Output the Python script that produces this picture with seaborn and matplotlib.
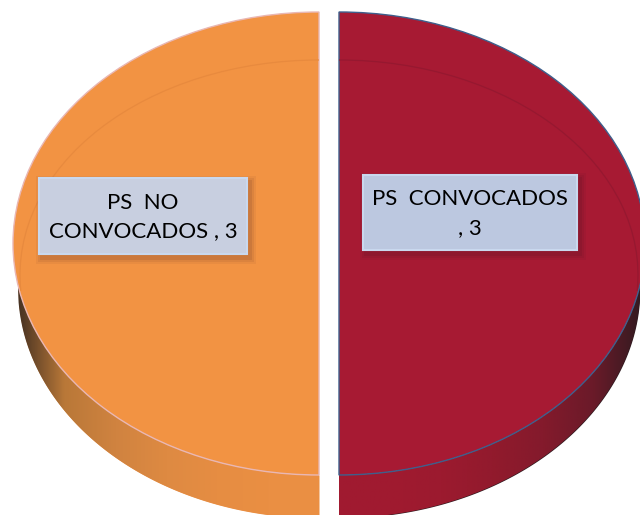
import numpy as np
import matplotlib
matplotlib.use("Agg")
import matplotlib.pyplot as plt
import seaborn as sns
from matplotlib.patches import Arc, Rectangle

categories = ["PS  NO\nCONVOCADOS ", "PS  CONVOCADOS\n"]
values = [3, 3]
slice_colors = ["#F29343", "#A71A33"]
edge_colors = ["#E9B7B4", "#3E5F8C"]
box_colors = ["#C8CFE0", "#BCC8E0"]
side_orange = ["#3A2A20", "#B97838", "#D08340", "#DE8A42", "#E68D42", "#EA8F43", "#EB9044"]
side_red = ["#A11A30", "#A01A30", "#9C1A2F", "#921A2D", "#841A2C", "#6A1A29", "#2F1B20"]

sns.set_theme(style="white")
plt.rcParams['font.family'] = ['Lato', 'DejaVu Sans']

# tamaños en pixeles de la imagen original
W, H = 640, 515
CX, CY = 329, 243.5
RX, RY = 306, 231.5
GAP = 10
# elipse inferior del canto
LOW_A, LOW_B, LOW_Y = 301, 230, 288


def px_x(x):
    return (x - CX) / RX


def px_y(y):
    return (CY - y) / RY


fig = plt.figure(figsize=(W / 100, H / 100), dpi=100)
ax = fig.add_axes([0, 0, 1, 1])

explode = [GAP / RX] * 2

# canto de la torta con degradado
t = np.linspace(0, 1, 500)
sides = [(-1, side_orange), (1, side_red)]
for sign, colors in sides:
    off = sign * GAP / RX
    xs = sign * t * LOW_A / RX
    top = -np.sqrt(1 - xs ** 2)
    low = px_y(LOW_Y + LOW_B * np.sqrt(1 - t ** 2))
    poly = ax.fill_between(xs + off, top, low, color=colors[-1], lw=0, zorder=1)
    cmap = sns.blend_palette(colors, as_cmap=True)
    extent = sorted([off, off + sign]) + [px_y(H + 20), 0]
    im = ax.imshow(np.linspace(0, 1, 256)[None, :], cmap=cmap, extent=extent,
                   aspect='auto', zorder=2)
    im.set_clip_path(poly.get_paths()[0], transform=ax.transData)

wedges, _ = ax.pie(values, startangle=90, counterclock=True, explode=explode,
                   colors=slice_colors, radius=1,
                   wedgeprops={'linewidth': 1.0})
for w, e in zip(wedges, edge_colors):
    w.set_edgecolor(e)
    w.set_zorder(3)

# linea interior muy tenue
arc_w = 2 * 299 / RX
arc_h = 2 * 215 / RY
arc_y = px_y(275)
ax.add_patch(Arc((-GAP / RX, arc_y), arc_w, arc_h, theta1=90, theta2=184,
                 color="#E88A3E", lw=0.9, zorder=4))
ax.add_patch(Arc((GAP / RX, arc_y), arc_w, arc_h, theta1=-4, theta2=90,
                 color="#961830", lw=0.9, zorder=4))

# etiquetas
boxes = [(39, 178, 247, 254), (363, 175, 577, 250)]
for (x0, y0, x1, y1), c, v, col in zip(boxes, categories, values, box_colors):
    for grow, alpha in [(6, 0.05), (4, 0.07), (2, 0.09)]:
        ax.add_patch(Rectangle((px_x(x0 + 3 - grow), px_y(y1 + 4 + grow)),
                               (x1 - x0 + 2 * grow) / RX, (y1 - y0 + 2 * grow) / RY,
                               fc="#301020", ec="none", alpha=alpha, zorder=5))
    ax.add_patch(Rectangle((px_x(x0), px_y(y1)), (x1 - x0) / RX, (y1 - y0) / RY,
                           fc=col, ec="#C9D8EE", lw=1.5, zorder=6))
    ax.text(px_x((x0 + x1) / 2), px_y((y0 + y1) / 2 + 1), f"{c}, {v}", ha='center', va='center',
            fontsize=16, color="#000000", linespacing=1.55, zorder=7)

ax.set_xlim(px_x(0), px_x(W))
ax.set_ylim(px_y(H), px_y(0))
ax.set_aspect('auto')
ax.axis('off')

plt.savefig("out.png", dpi=100)
plt.close()
